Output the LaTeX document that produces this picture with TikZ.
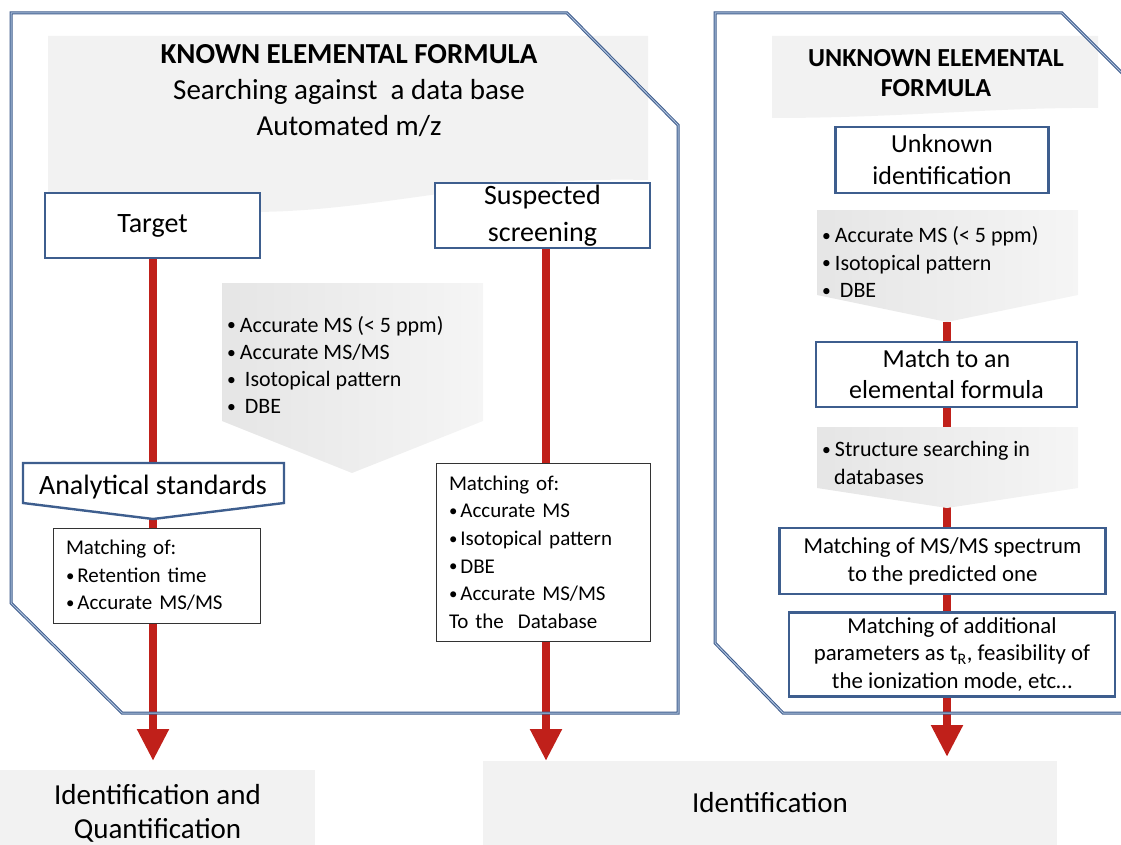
\documentclass[tikz,border=0pt]{standalone}
\usepackage{fontspec}
\usepackage{graphicx}
\setmainfont{Carlito}
\usetikzlibrary{arrows.meta}
\definecolor{boxblue}{RGB}{62,94,142}
\definecolor{frameblue}{RGB}{62,92,140}
\definecolor{framelight}{RGB}{175,195,222}
\definecolor{banner}{RGB}{242,242,242}
\definecolor{redarr}{RGB}{192,32,26}
\newcommand\fsz[2]{\fontsize{#1}{#2}\selectfont}
\newcommand\bul{\raisebox{0.06em}{\scalebox{0.8}{\textbullet}}}
\pgfdeclarelayer{bg}
\pgfsetlayers{bg,main}
\begin{document}
\begin{tikzpicture}[x=1pt,y=-1pt,
  bbox/.style={draw=boxblue, line width=2.4pt, fill=white, align=center, inner sep=0pt},
  mbox/.style={draw=black!80, line width=1pt, fill=white, align=left, inner xsep=13pt, inner ysep=0pt},
  frame/.style={draw=frameblue, double=framelight, double distance=1pt, line width=1pt, line join=miter},
  grayarrow/.style={left color=black!10, middle color=black!20, right color=black!4},
  redline/.style={draw=redarr, line width=8pt, -{Triangle[width=30pt,length=32pt]}},
  plain/.style={inner sep=0pt, align=left}
]
\useasboundingbox (0,0) rectangle (1121,845);

% banners
\fill[banner] (48,36) -- (648,36) -- (648,180) .. controls (480,176) and (380,212) .. (250,212) -- (48,212) -- cycle;
\fill[banner] (772,36) -- (1098,36) -- (1098,108) .. controls (1000,107) and (900,118) .. (772,118) -- cycle;
\node[font=\fsz{29}{36}, align=center, inner sep=0pt] (khead) at (349,91)
  {\textbf{KNOWN ELEMENTAL FORMULA}\\Searching against\ \ a data base\\Automated m/z};
\node[font=\fsz{26}{30}\bfseries, align=center, inner sep=0pt] (uhead) at (936,73)
  {UNKNOWN ELEMENTAL\\FORMULA};

% bottom result boxes
\node[fill=banner, minimum width=315pt, minimum height=86pt, inner sep=0pt, align=center, font=\fsz{29}{34}] (idq) at (157.5,813)
  {Identification and\\Quantification};
\node[fill=banner, minimum width=574pt, minimum height=84pt, inner sep=0pt, font=\fsz{29}{34}] (idf) at (770,803)
  {Identification};

% anchor coordinates
\coordinate (tipL) at (153,761);
\coordinate (tipM) at (546,761);
\coordinate (tipR) at (947,757);
\coordinate (g1tip) at (947,322);

% top boxes
\node[bbox, minimum width=215pt, minimum height=65pt, font=\fsz{28}{34}] (target) at (152.5,225.5) {Target};
\node[bbox, minimum width=215pt, minimum height=65pt, font=\fsz{28}{37}] (susp) at (542.5,215.5) {Suspected\\screening};

% red arrows (behind everything else)
\begin{pgfonlayer}{bg}
\draw[redline] (target.south -| tipL) -- (tipL);
\draw[redline] (susp.south -| tipM) -- (tipM);
\draw[redline] (g1tip) -- (tipR);
\end{pgfonlayer}

% gray arrow (left)
\shade[grayarrow] (222,283) -- (483,283) -- (483,421) -- (352,473) -- (222,421) -- cycle;
\node[plain, font=\fsz{22}{27.3}, anchor=west] (gl) at (227,365)
  {\bul\hspace{4pt}Accurate MS (< 5 ppm)\\\bul\hspace{4pt}Accurate MS/MS\\\bul\hspace{9pt}Isotopical pattern\\\bul\hspace{9pt}DBE};

% analytical standards pentagon
\draw[draw=boxblue, line width=2.4pt, fill=white, line join=miter] (23,463) -- (284,463) -- (284,503) -- (153,519) -- (23,503) -- cycle;
\node[font=\fsz{28}{34}, inner sep=0pt] (anstd) at (153,487) {Analytical standards};

% matching boxes
\node[mbox, text width=181pt, minimum height=95pt, font=\fsz{21}{27.5}] (matchL) at (156.5,575.5)
  {Matching of:\\\bul\hspace{3pt}Retention time\\\bul\hspace{3pt}Accurate MS/MS};
\node[mbox, text width=188pt, minimum height=178pt, font=\fsz{21}{27.6}] (matchM) at (543,552)
  {Matching of:\\\bul\hspace{3pt}Accurate MS\\\bul\hspace{3pt}Isotopical pattern\\\bul\hspace{3pt}DBE\\\bul\hspace{3pt}Accurate MS/MS\\To the\ \ Database};

% right column
\node[bbox, minimum width=213pt, minimum height=66pt, font=\fsz{26}{32}] (unk) at (942,160) {Unknown\\identification};
\shade[grayarrow] (817,210) -- (1078,210) -- (1078,295) -- (947,322) -- (817,295) -- cycle;
\node[plain, font=\fsz{22}{27.5}, anchor=west] (gr1) at (822,262)
  {\bul\hspace{4pt}Accurate MS (< 5 ppm)\\\bul\hspace{4pt}Isotopical pattern\\\bul\hspace{9pt}DBE};
\node[bbox, minimum width=261pt, minimum height=65pt, font=\fsz{26}{31}] (match) at (946.5,374.5) {Match to an\\elemental formula};
\shade[grayarrow] (817,427) -- (1078,427) -- (1078,488) -- (947,508) -- (817,488) -- cycle;
\node[plain, font=\fsz{22}{28}, anchor=west] (gr2) at (822,463)
  {\bul\hspace{4pt}Structure searching in\\\hspace*{12pt}databases};
\node[bbox, minimum width=326pt, minimum height=66pt, font=\fsz{22.8}{28}] (msms) at (942.5,561) {Matching of MS/MS spectrum\\to the predicted one};
\node[bbox, minimum width=326pt, minimum height=84pt, font=\fsz{22.8}{27.5}] (addp) at (952,654.5)
  {Matching of additional\\parameters as t\textsubscript{R}, feasibility of\\the ionization mode, etc…};

% frames
\draw[frame] (11,13) -- (567,13) -- (678,125) -- (678,713) -- (122,713) -- (11,603) -- cycle;
\draw[frame] (715,13) -- (1062,13) -- (1180,131) -- (1180,713) -- (783,713) -- (715,643) -- cycle;
\end{tikzpicture}
\end{document}
